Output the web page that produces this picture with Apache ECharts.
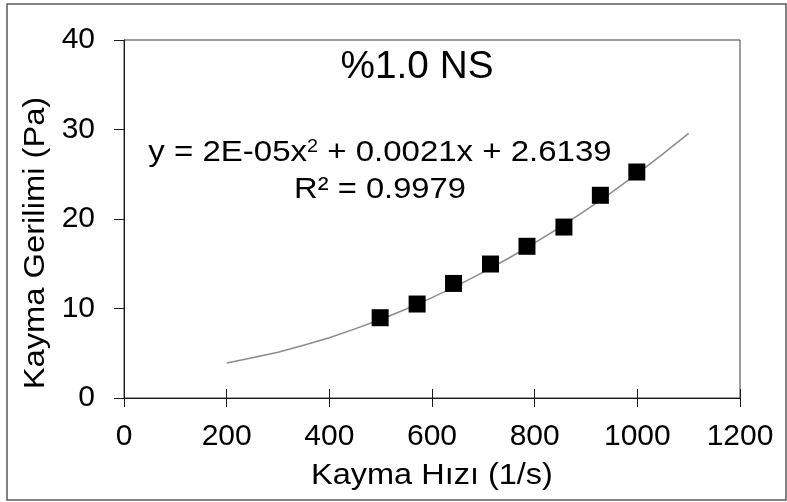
<!DOCTYPE html>
<html><head><meta charset="utf-8">
<script src="https://cdn.jsdelivr.net/npm/echarts@6/dist/echarts.min.js"></script>
<style>html,body{margin:0;padding:0;background:#fff}#c{width:787px;height:502px}</style>
</head><body><div id="c"></div>
<script>
const shearRate   = [499, 571, 642, 714, 785, 857, 928, 999];
const shearStress = [8.97, 10.5, 12.8, 14.97, 16.95, 19.1, 22.65, 25.25];
// Trendline
const trendX = [200, 250, 300, 350, 400, 450, 500, 550, 600, 650, 700, 750, 800, 850, 900, 950, 1000, 1050, 1100];
const trendY = [3.9, 4.5, 5.12, 5.9, 6.74, 7.72, 8.77, 9.94, 11.21, 12.59, 14.06, 15.64, 17.32, 19.1, 20.99, 22.98, 25.07, 27.27, 29.56];
// Tick labels
const xTickLabels = [0, 200, 400, 600, 800, 1000, 1200];
const yTickLabels = [0, 10, 20, 30, 40];
// Texts
const titleText = '%1.0 NS';
const xName = 'Kayma Hızı (1/s)';
const yName = 'Kayma Gerilimi (Pa)';
const eqLine1 = 'y = 2E-05x{sup|2} + 0.0021x + 2.6139';
const eqLine2 = 'R² = 0.9979';

const FONT = '"Liberation Sans", Arial, sans-serif';
const chart = echarts.init(document.getElementById('c'), null, {renderer: 'canvas'});

const pts = shearRate.map((x, i) => [x, shearStress[i]]);
const trend = trendX.map((x, i) => [x, trendY[i]]);

const xMin = xTickLabels[0], xMax = xTickLabels[xTickLabels.length - 1];
const xStep = xTickLabels[1] - xTickLabels[0];
const yMin = yTickLabels[0], yMax = yTickLabels[yTickLabels.length - 1];
const yStep = yTickLabels[1] - yTickLabels[0];

const option = {
  animation: false,
  backgroundColor: '#ffffff',
  grid: {left: 124, top: 40, width: 616, height: 358, show: true,
         borderColor: '#3a3a3a', borderWidth: 1, backgroundColor: 'transparent'},
  xAxis: [{
    type: 'value', min: xMin, max: xMax, interval: xStep, position: 'bottom',
    axisLine: {show: true, lineStyle: {color: '#1a1a1a', width: 1}},
    axisTick: {show: true, inside: false, length: 9, lineStyle: {color: '#1a1a1a', width: 1}},
    axisLabel: {show: true, margin: 24, color: '#000', fontSize: 30, fontFamily: FONT,
                formatter: v => String(v)},
    splitLine: {show: false}
  }, {
    type: 'value', min: xMin, max: xMax, interval: xStep, position: 'bottom', offset: 0,
    axisLine: {show: false},
    axisTick: {show: true, inside: true, length: 9, lineStyle: {color: '#1a1a1a', width: 1}},
    axisLabel: {show: false},
    splitLine: {show: false}
  }],
  yAxis: [{
    type: 'value', min: yMin, max: yMax, interval: yStep,
    axisLine: {show: true, lineStyle: {color: '#1a1a1a', width: 1}},
    axisTick: {show: true, inside: false, length: 10, lineStyle: {color: '#1a1a1a', width: 1}},
    axisLabel: {show: true, margin: 29, color: '#000', fontSize: 30, fontFamily: FONT,
                formatter: v => String(v)},
    splitLine: {show: false}
  }],
  series: [{
    type: 'line', data: trend, smooth: false, showSymbol: false, symbol: 'none',
    xAxisIndex: 0, yAxisIndex: 0, z: 2,
    lineStyle: {color: '#8c8c8c', width: 1.5, join: 'round'}
  }, {
    type: 'scatter', data: pts, symbol: 'rect', symbolSize: 17,
    xAxisIndex: 0, yAxisIndex: 0, z: 3,
    itemStyle: {color: '#000', opacity: 1, borderWidth: 0}
  }],
  graphic: [
    {type: 'rect', z: 0, silent: true,
     shape: {x: 7, y: 4, width: 779, height: 496},
     style: {fill: 'none', stroke: '#5a5a5a', lineWidth: 1.5}},
    {type: 'text', x: 417, y: 68, scaleX: 1.02, z: 10,
     style: {text: titleText, fontSize: 38, fontFamily: FONT, fill: '#000', align: 'center', verticalAlign: 'middle'}},
    {type: 'text', x: 380, y: 153, scaleX: 1.1, z: 10,
     style: {text: eqLine1, fontSize: 30, fontFamily: FONT, fill: '#000', align: 'center', verticalAlign: 'middle',
             rich: {sup: {fontSize: 18, fontFamily: FONT, fill: '#000', verticalAlign: 'top'}}}},
    {type: 'text', x: 380, y: 190, scaleX: 1.09, z: 10,
     style: {text: eqLine2, fontSize: 30, fontFamily: FONT, fill: '#000', align: 'center', verticalAlign: 'middle'}},
    {type: 'text', x: 432, y: 476, scaleX: 1.12, z: 10,
     style: {text: xName, fontSize: 29, fontFamily: FONT, fill: '#000', align: 'center', verticalAlign: 'middle'}},
    {type: 'text', x: 36, y: 243, rotation: Math.PI / 2, scaleX: 1.09, z: 10,
     style: {text: yName, fontSize: 30, fontFamily: FONT, fill: '#000', align: 'center', verticalAlign: 'middle'}}
  ]
};
chart.setOption(option);
</script></body></html>
